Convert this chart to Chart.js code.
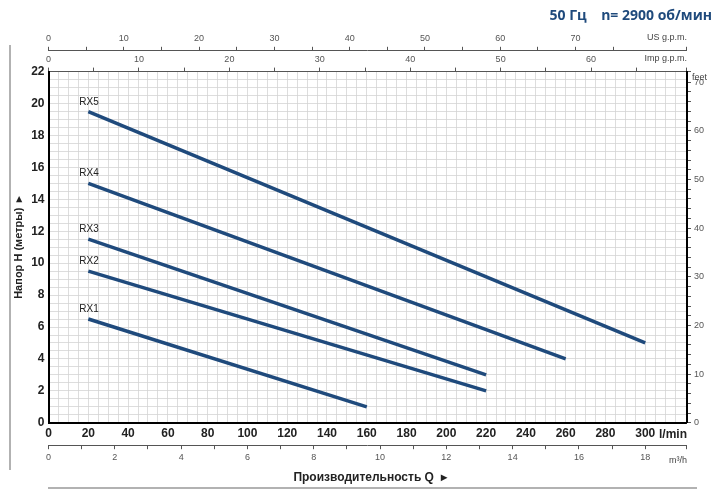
<!DOCTYPE html>
<html>
<head>
<meta charset="utf-8">
<script src="https://cdn.jsdelivr.net/npm/chart.js@4"></script>
<style>
body { margin: 0; background: #fff; }
#wrap { width: 717px; height: 500px; position: relative; }
</style>
</head>
<body>
<div id="wrap"><canvas id="myChart" width="717" height="500"></canvas></div>
<script>
const models = ["RX1", "RX2", "RX3", "RX4", "RX5"]
const flowLmin = [[20, 160], [20, 220], [20, 220], [20, 260], [20, 300]]
const headM = [[6.5, 1], [9.5, 2], [11.5, 3], [15, 4], [19.5, 5]]
const xMax = 321
const yMax = 22

const lineColor = "#1f4a7c"

const datasets = models.map((m, i) => ({
    label: m,
    data: flowLmin[i].map((q, j) => ({ x: q, y: headM[i][j] })),
    showLine: true,
    borderColor: lineColor,
    borderWidth: 3.5,
    pointRadius: 0,
    xAxisID: "x",
    yAxisID: "y"
}))

const small = { family: "Liberation Sans Narrow, Liberation Sans", size: 9 }
const bold = { family: "Liberation Sans Narrow, Liberation Sans", size: 12, weight: "bold" }

const extraText = {
    id: "extraText",
    afterDraw(chart) {
        const c = chart.ctx
        const a = chart.chartArea
        const sx = chart.scales.x, sy = chart.scales.y
        c.save()
        // labels of the curves
        c.fillStyle = "#222"
        c.font = "10px Liberation Sans Narrow, Liberation Sans"
        c.textAlign = "left"
        models.forEach((m, i) => {
            c.fillText(m, sx.getPixelForValue(flowLmin[i][0]) - 9, sy.getPixelForValue(headM[i][0]) - 7)
        })
        // unit labels
        c.fillStyle = "#444"
        c.font = "9px Liberation Sans Narrow, Liberation Sans"
        c.textAlign = "right"
        c.fillText("US g.p.m.", a.right, chart.scales.us.top + 10)
        c.fillText("Imp g.p.m.", a.right, chart.scales.imp.top + 10)
        c.fillText("m³/h", a.right, chart.scales.m3.bottom - 3)
        c.textAlign = "left"
        c.fillText("feet", a.right + 5, a.top + 8)
        c.font = "bold 12px Liberation Sans Narrow, Liberation Sans"
        c.fillStyle = "#222"
        c.textAlign = "right"
        c.fillText("l/min", a.right, sx.top + 15)
        // x title
        c.textAlign = "center"
        c.font = "bold 12px Liberation Sans"
        c.fillText("Производительность Q  ▸", 370, 481)
        // title
        c.fillStyle = "#1f4a7c"
        c.textAlign = "right"
        c.font = "bold 14px Open Sans"
        c.fillText("50 Гц    n= 2900 об/мин", 712, 20)
        // side lines
        c.strokeStyle = "#999"
        c.lineWidth = 1.5
        c.beginPath()
        c.moveTo(10, 45); c.lineTo(10, 470)
        c.moveTo(48, 488); c.lineTo(697, 488)
        c.stroke()
        c.restore()
    }
}

const ctx = document.getElementById("myChart").getContext("2d")
const myChart = new Chart(ctx, {
    type: "scatter",
    data: { datasets: datasets },
    options: {
        responsive: false,
        animation: false,
        layout: { padding: { top: 30, left: 8, right: 10, bottom: 34 } },
        plugins: { legend: { display: false }, tooltip: { enabled: false } },
        scales: {
            x: {
                type: "linear", position: "bottom", min: 0, max: xMax,
                border: { color: "#000", width: 2 },
                grid: { color: "#d4d4d4", lineWidth: 0.8, tickLength: 0 },
                ticks: {
                    stepSize: 5, autoSkip: false, maxRotation: 0, color: "#222", font: bold, padding: 4,
                    callback: (v) => (v % 20 === 0 && v <= 300 ? v : "")
                }
            },
            m3: {
                type: "linear", position: "bottom", min: 0, max: xMax * 0.06,
                border: { color: "#555" },
                grid: { drawOnChartArea: false, tickLength: 4, color: "#555" },
                ticks: { stepSize: 1, autoSkip: false, maxRotation: 0, color: "#555", font: small,
                    callback: (v) => (v % 2 === 0 ? v : "") }
            },
            imp: {
                type: "linear", position: "top", min: 0, max: xMax / 4.546,
                border: { color: "#555" },
                grid: { drawOnChartArea: false, tickLength: 4, color: "#555" },
                ticks: { stepSize: 5, autoSkip: false, maxRotation: 0, color: "#555", font: small,
                    callback: (v) => (v % 10 === 0 ? v : "") }
            },
            us: {
                type: "linear", position: "top", min: 0, max: xMax / 3.785,
                border: { color: "#555" },
                grid: { drawOnChartArea: false, tickLength: 4, color: "#555" },
                ticks: { stepSize: 5, autoSkip: false, maxRotation: 0, color: "#555", font: small,
                    callback: (v) => (v % 10 === 0 ? v : "") }
            },
            y: {
                type: "linear", position: "left", min: 0, max: yMax,
                border: { color: "#000", width: 2 },
                grid: { color: "#d4d4d4", lineWidth: 0.8, tickLength: 0 },
                ticks: { stepSize: 0.5, autoSkip: false, color: "#222", font: bold, padding: 4,
                    callback: (v) => (v % 2 === 0 ? v : "") },
                title: { display: true, text: "Напор H (метры)  ▸", color: "#222",
                    font: { family: "Liberation Sans", size: 11, weight: "bold" }, padding: { bottom: 2 } }
            },
            ft: {
                type: "linear", position: "right", min: 0, max: yMax * 3.281,
                border: { color: "#000", width: 2 },
                grid: { drawOnChartArea: false, tickLength: 4, color: "#555" },
                ticks: { stepSize: 2, autoSkip: false, color: "#555", font: small,
                    callback: (v) => (v % 10 === 0 ? v : "") }
            }
        }
    },
    plugins: [extraText]
})
</script>
</body>
</html>
